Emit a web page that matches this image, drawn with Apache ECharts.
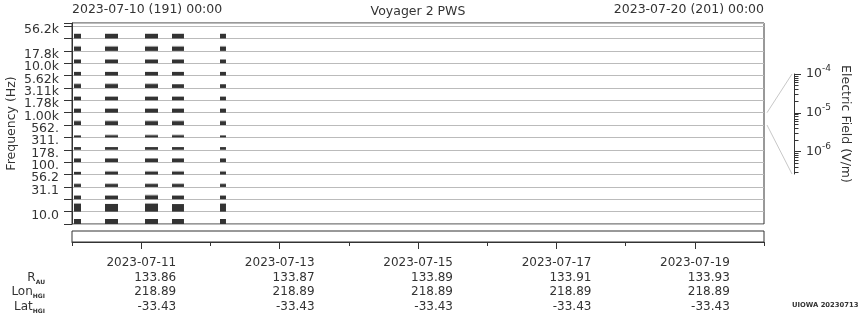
<!DOCTYPE html>
<html>
<head>
<meta charset="utf-8">
<title>Voyager 2 PWS</title>
<script src="https://cdn.jsdelivr.net/npm/echarts@6/dist/echarts.min.js"></script>
<style>
html,body{margin:0;padding:0;background:#fff;}
#chart{width:860px;height:320px;}
</style>
</head>
<body>
<div id="chart"></div>
<script>
// ---------------- data ----------------
const chartTitle = 'Voyager 2 PWS';
const timeStart = '2023-07-10 00:00';
const timeEnd = '2023-07-20 00:00';
const topLabels = ['2023-07-10 (191) 00:00', '2023-07-20 (201) 00:00'];
const freqAxisName = 'Frequency (Hz)';

// frequency channels, bottom to top
const channels = ['10.0','17.8','31.1','56.2','100.','178.','311.','562.','1.00k','1.78k','3.11k','5.62k','10.0k','17.8k','31.1k','56.2k'];
const zoomChannel = '1.00k';

// data intervals (tracking passes)
const intervalStart = ['2023-07-10 00:42','2023-07-10 11:27','2023-07-11 01:19','2023-07-11 10:41','2023-07-12 03:20'];
const intervalEnd   = ['2023-07-10 03:07','2023-07-10 15:57','2023-07-11 05:50','2023-07-11 14:50','2023-07-12 05:24'];

// mean electric field (V/m): one row per channel (bottom to top), one column per interval
const fieldMean = [
  [2.9e-6, 2.9e-6, 2.9e-6, 2.9e-6, 2.9e-6],     // 10.0
  [1.06e-5, 1.06e-5, 1.06e-5, 1.0e-5, 1.06e-5], // 17.8
  [1.55e-6, 1.55e-6, 1.55e-6, 1.55e-6, 1.55e-6],// 31.1
  [9.6e-7, 9.6e-7, 9.6e-7, 9.6e-7, 9.6e-7],     // 56.2
  [9.6e-7, 9.6e-7, 9.6e-7, 9.6e-7, 9.6e-7],     // 100.
  [1.55e-6, 1.55e-6, 1.55e-6, 1.55e-6, 1.55e-6],// 178.
  [9.6e-7, 9.6e-7, 9.6e-7, 9.6e-7, 9.6e-7],     // 311.
  [6.9e-7, 6.9e-7, 6.9e-7, 6.9e-7, 6.9e-7],     // 562.
  [1.55e-6, 1.55e-6, 1.55e-6, 1.55e-6, 1.55e-6],// 1.00k
  [1.55e-6, 1.55e-6, 1.55e-6, 1.55e-6, 1.55e-6],// 1.78k
  [1.55e-6, 1.55e-6, 1.55e-6, 1.55e-6, 1.55e-6],// 3.11k
  [1.55e-6, 1.55e-6, 1.55e-6, 1.55e-6, 1.55e-6],// 5.62k
  [1.55e-6, 1.55e-6, 1.55e-6, 1.55e-6, 1.55e-6],// 10.0k
  [1.55e-6, 1.55e-6, 1.55e-6, 1.55e-6, 1.55e-6],// 17.8k
  [1.8e-6, 1.8e-6, 1.8e-6, 1.8e-6, 1.8e-6],     // 31.1k
  [2.5e-6, 2.5e-6, 2.5e-6, 2.5e-6, 2.5e-6]      // 56.2k
];
// peak electric field (V/m), null where not visible
const fieldPeak = [
  [null, null, null, null, null],
  [1.7e-5, null, 1.7e-5, null, 1.7e-5],
  [null, null, 2.5e-6, null, null],
  [1.55e-6, 1.55e-6, 1.55e-6, 1.55e-6, 1.55e-6],
  [null, 1.55e-6, 1.55e-6, 1.55e-6, 1.55e-6],
  [null, null, null, null, null],
  [null, null, null, null, null],
  [null, 1.1e-6, 1.1e-6, 1.1e-6, null],
  [2.5e-6, 2.5e-6, 2.5e-6, 2.5e-6, 2.5e-6],
  [2.5e-6, 2.5e-6, 2.5e-6, 2.5e-6, 2.5e-6],
  [null, null, null, null, null],
  [2.5e-6, 2.5e-6, 2.5e-6, null, null],
  [null, null, null, null, null],
  [null, null, null, null, null],
  [2.9e-6, 2.9e-6, 2.9e-6, 2.9e-6, 2.9e-6],
  [null, null, null, null, null]
];

// electric field scale (log10 V/m) of each channel band
const fieldLogMin = -6.58;
const fieldLogMax = -4;
const fieldExponents = [-6, -5, -4];

// ephemeris table
const minorDays = ['2023-07-10','2023-07-12','2023-07-14','2023-07-16','2023-07-18','2023-07-20'];
const posDates = ['2023-07-11','2023-07-13','2023-07-15','2023-07-17','2023-07-19'];
const rAU = ['133.86','133.87','133.89','133.91','133.93'];
const lonHGI = ['218.89','218.89','218.89','218.89','218.89'];
const latHGI = ['-33.43','-33.43','-33.43','-33.43','-33.43'];
const rowNames = [['R','AU'], ['Lon','HGI'], ['Lat','HGI']];
const stamp = 'UIOWA 20230713';

// ---------------- chart ----------------
const FONT = '"DejaVu Sans", sans-serif';
const INK = '#333';
const GRID_LINE = '#bbb';
const PEAK = '#b4b4b4';

const T = s => (echarts.time && echarts.time.parse) ? +echarts.time.parse(s) : +new Date(s.replace(' ', 'T'));
const bandFrac = E => (Math.log10(E) - fieldLogMin) / (fieldLogMax - fieldLogMin);

function buildBars(table) {
  const out = [];
  table.forEach((row, ch) => row.forEach((E, k) => {
    if (E != null) out.push([T(intervalStart[k]), T(intervalEnd[k]), ch, ch + bandFrac(E)]);
  }));
  return out;
}
const meanData = buildBars(fieldMean);
const peakData = buildBars(fieldPeak);

const minorFieldTicks = [];
for (let n = -7; n <= -5; n++) {
  for (let k = 2; k <= 9; k++) {
    const v = n + Math.log10(k);
    if (v > fieldLogMin && v < fieldLogMax) minorFieldTicks.push(v);
  }
}

// channel label anchors: one per band, slightly above the band middle
const LABEL_LIFT = 0.7;
const channelLabelValues = channels.map((c, i) => i + LABEL_LIFT);

function barItem(color) {
  return function (params, api) {
    const a = api.coord([api.value(0), api.value(2)]);
    const b = api.coord([api.value(1), api.value(3)]);
    return { type: 'rect', shape: { x: a[0], y: b[1], width: b[0] - a[0], height: a[1] - b[1] }, style: { fill: color } };
  };
}

const LINE_H = 14.5;
const LABEL_MARGIN = 14;
const posTimes = posDates.map(T);
const t0 = T(timeStart), t1 = T(timeEnd);

const chart = echarts.init(document.getElementById('chart'), null, { renderer: 'canvas' });
const axisLineStyle = { color: INK, width: 1 };
const txt = { fontFamily: FONT, color: INK };

chart.setOption({
  animation: false,
  backgroundColor: '#fff',
  textStyle: { fontFamily: FONT },
  grid: [
    { left: 72, top: 23, width: 692, height: 201, show: true, borderColor: INK, borderWidth: 1 },
    { left: 72, top: 25.75, width: 692, height: 190.4 },
    { left: 72, top: 231, width: 692, height: 11, show: true, borderColor: INK, borderWidth: 1 },
    { left: 793, top: 74, width: 1, height: 100 }
  ],
  xAxis: [
    { gridIndex: 0, type: 'time', min: t0, max: t1, axisLine: { show: false }, axisTick: { show: false }, axisLabel: { show: false }, splitLine: { show: false } },
    { gridIndex: 1, type: 'value', min: 0, max: 1, show: false },
    { gridIndex: 2, type: 'value', position: 'bottom', min: t0, max: t1,
      axisLine: { show: true, onZero: false, lineStyle: axisLineStyle },
      axisTick: { show: true, customValues: minorDays.map(T), length: 4, lineStyle: axisLineStyle },
      axisLabel: { show: false }, splitLine: { show: false } },
    { gridIndex: 2, type: 'value', position: 'bottom', min: t0, max: t1,
      axisLine: { show: false, onZero: false },
      axisTick: { show: true, customValues: posTimes, length: 7, lineStyle: axisLineStyle },
      axisLabel: {
        show: true, customValues: posTimes, margin: LABEL_MARGIN, align: 'center', verticalAlign: 'top',
        showMinLabel: true, showMaxLabel: true,
        formatter: function (v) {
          let i = 0, best = Infinity;
          posTimes.forEach((t, j) => { if (Math.abs(t - v) < best) { best = Math.abs(t - v); i = j; } });
          return '{v|' + posDates[i] + '}\n{v|' + rAU[i] + '}\n{v|' + lonHGI[i] + '}\n{v|' + latHGI[i] + '}';
        },
        rich: { v: { width: 70, align: 'right', fontSize: 12, lineHeight: LINE_H, fontFamily: FONT, color: INK } }
      },
      splitLine: { show: false } },
    { gridIndex: 3, type: 'value', min: 0, max: 1, show: false }
  ],
  yAxis: [
    { gridIndex: 0, type: 'value', min: 0, max: 16.25, interval: 1,
      axisLine: { show: true, onZero: false, lineStyle: axisLineStyle },
      axisTick: { show: true, length: 8, lineStyle: axisLineStyle },
      axisLabel: {
        show: true, customValues: channelLabelValues, margin: 13, fontSize: 12.5, ...txt,
        showMinLabel: true, showMaxLabel: true, hideOverlap: false,
        formatter: v => channels[Math.floor(v + 1e-6)] || ''
      },
      splitLine: { show: true, lineStyle: { color: GRID_LINE, width: 1 } } },
    { gridIndex: 1, type: 'value', min: 0, max: 1, show: false },
    { gridIndex: 3, type: 'value', position: 'right', min: fieldLogMin, max: fieldLogMax,
      axisLine: { show: true, onZero: false, lineStyle: axisLineStyle },
      axisTick: { show: true, customValues: fieldExponents, length: 7, lineStyle: axisLineStyle },
      axisLabel: {
        show: true, customValues: fieldExponents, margin: 12,
        showMinLabel: true, showMaxLabel: true,
        formatter: v => '{b|10}{s|' + Math.round(v) + '}',
        rich: {
          b: { fontSize: 12.5, fontFamily: FONT, color: INK },
          s: { fontSize: 9, fontFamily: FONT, color: INK, padding: [0, 0, 10, 0] }
        }
      },
      splitLine: { show: false },
      name: 'Electric Field (V/m)', nameLocation: 'middle', nameRotate: -90, nameGap: 45,
      nameTextStyle: { fontSize: 12.5, ...txt } },
    { gridIndex: 3, type: 'value', position: 'right', min: fieldLogMin, max: fieldLogMax,
      axisLine: { show: false, onZero: false },
      axisTick: { show: true, customValues: minorFieldTicks, length: 4.5, lineStyle: axisLineStyle },
      axisLabel: { show: false }, splitLine: { show: false } },
    { gridIndex: 2, type: 'value', min: 0, max: 1, show: false }
  ],
  series: [
    { type: 'custom', name: 'peak', xAxisIndex: 0, yAxisIndex: 0, renderItem: barItem(PEAK), data: peakData,
      encode: { x: [0, 1], y: [2, 3] }, z: 2, silent: true },
    { type: 'custom', name: 'mean', xAxisIndex: 0, yAxisIndex: 0, renderItem: barItem(INK), data: meanData,
      encode: { x: [0, 1], y: [2, 3] }, z: 3, silent: true }
  ]
});

// decorations placed from the axes
const zi = channels.indexOf(zoomChannel);
const bandRight = chart.convertToPixel({ xAxisIndex: 0 }, t1);
const bandTop = chart.convertToPixel({ yAxisIndex: 0 }, zi + 1);
const bandBot = chart.convertToPixel({ yAxisIndex: 0 }, zi);
const axX = chart.convertToPixel({ xAxisIndex: 4 }, 1);
const axTop = chart.convertToPixel({ yAxisIndex: 2 }, fieldLogMax);
const axBot = chart.convertToPixel({ yAxisIndex: 2 }, fieldLogMin);
const plotMidY = (chart.convertToPixel({ yAxisIndex: 0 }, 0) + chart.convertToPixel({ yAxisIndex: 0 }, 16.25)) / 2;

const rowY0 = 242 + LABEL_MARGIN + LINE_H * 1.5;
const graphic = [
  { type: 'text', style: { x: 72, y: 9.5, text: topLabels[0], align: 'left', verticalAlign: 'middle', font: '12.5px ' + FONT, fill: INK } },
  { type: 'text', style: { x: 764, y: 9.5, text: topLabels[1], align: 'right', verticalAlign: 'middle', font: '12.5px ' + FONT, fill: INK } },
  { type: 'text', style: { x: 418, y: 11.5, text: chartTitle, align: 'center', verticalAlign: 'middle', font: '12.5px ' + FONT, fill: INK } },
  { type: 'text', x: 11.5, y: plotMidY, rotation: Math.PI / 2,
    style: { x: 0, y: 0, text: freqAxisName, align: 'center', verticalAlign: 'middle', font: '12.5px ' + FONT, fill: INK } },
  { type: 'line', shape: { x1: bandRight + 3, y1: bandTop, x2: axX - 2, y2: axTop }, style: { stroke: '#c8c8c8', lineWidth: 1 } },
  { type: 'line', shape: { x1: bandRight + 3, y1: bandBot, x2: axX - 2, y2: axBot }, style: { stroke: '#c8c8c8', lineWidth: 1 } },
  { type: 'text', style: { x: 792, y: 305, text: stamp, align: 'left', verticalAlign: 'middle', font: 'bold 6.8px ' + FONT, fill: INK } }
];
rowNames.forEach((r, i) => {
  graphic.push({ type: 'text', style: {
    x: 45, y: rowY0 + LINE_H * i, text: '{m|' + r[0] + '}{s|' + r[1] + '}', align: 'right', verticalAlign: 'middle',
    rich: {
      m: { fontSize: 12, fontFamily: FONT, fill: INK },
      s: { fontSize: 6, fontWeight: 'bold', fontFamily: FONT, fill: INK, padding: [9, 0, 0, 0] }
    }
  } });
});
chart.setOption({ graphic: graphic });
</script>
</body>
</html>
